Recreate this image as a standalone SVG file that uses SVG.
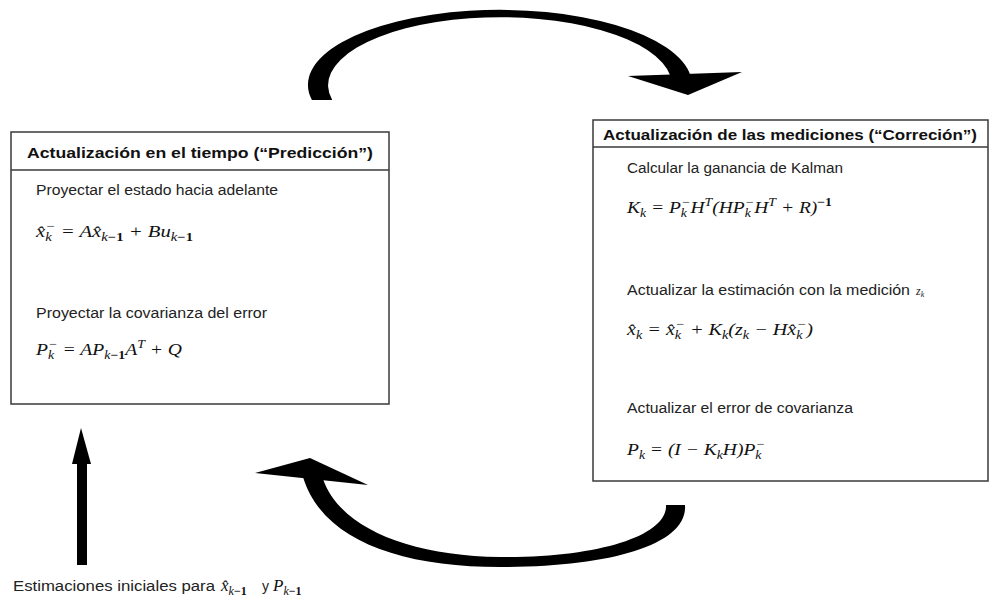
<svg xmlns="http://www.w3.org/2000/svg" width="989" height="606" viewBox="0 0 989 606">
<style>
.box{fill:#fff;stroke:#3a3a3a;stroke-width:1.5}
.sep{stroke:#3a3a3a;stroke-width:1.5}
.h{font-family:"Liberation Sans",Arial,sans-serif;font-weight:bold;font-size:15px;fill:#111}
.t{font-family:"Liberation Sans",Arial,sans-serif;font-size:14px;fill:#222}
.m{font-family:"Liberation Serif","Times New Roman",serif;font-style:italic;font-size:17px;fill:#111}
.s{font-size:12px}
.u{font-style:normal;font-weight:bold}
.arr{fill:#000;stroke:none}
</style>
<rect width="989" height="606" fill="#fff"/>
<g id="prediccion">
<rect class="box" x="11" y="132" width="378" height="272"/>
<line class="sep" x1="11" y1="170" x2="389" y2="170"/>
<text class="h" x="27" y="158" textLength="346" lengthAdjust="spacingAndGlyphs">Actualización en el tiempo (“Predicción”)</text>
<text class="t" x="36" y="195" textLength="242" lengthAdjust="spacingAndGlyphs">Proyectar el estado hacia adelante</text>
<text class="m" x="36" y="237" textLength="157" lengthAdjust="spacingAndGlyphs">x&#770;<tspan class="s" dy="4">k</tspan><tspan class="s" dx="-5" dy="-11">−</tspan><tspan dy="7"> = A</tspan>x&#770;<tspan class="s" dy="4">k<tspan class="u">−1</tspan></tspan><tspan dy="-4"> + Bu</tspan><tspan class="s" dy="4">k<tspan class="u">−1</tspan></tspan></text>
<text class="t" x="36" y="318" textLength="231" lengthAdjust="spacingAndGlyphs">Proyectar la covarianza del error</text>
<text class="m" x="36" y="355" textLength="146" lengthAdjust="spacingAndGlyphs">P<tspan class="s" dy="4">k</tspan><tspan class="s" dx="-5" dy="-11">−</tspan><tspan dy="7"> = AP</tspan><tspan class="s" dy="4">k<tspan class="u">−1</tspan></tspan><tspan dy="-4">A</tspan><tspan class="s" dy="-7">T</tspan><tspan dy="7"> + Q</tspan></text>
</g>
<g id="correccion">
<rect class="box" x="593" y="120" width="395" height="361"/>
<line class="sep" x1="593" y1="147" x2="988" y2="147"/>
<text class="h" x="603" y="140" textLength="374" lengthAdjust="spacingAndGlyphs">Actualización de las mediciones (“Correción”)</text>
<text class="t" x="627" y="173" textLength="216" lengthAdjust="spacingAndGlyphs">Calcular la ganancia de Kalman</text>
<text class="m" x="627" y="213" textLength="205" lengthAdjust="spacingAndGlyphs">K<tspan class="s" dy="4">k</tspan><tspan dy="-4"> = P</tspan><tspan class="s" dy="4">k</tspan><tspan class="s" dx="-5" dy="-11">−</tspan><tspan dy="7">H</tspan><tspan class="s" dy="-7">T</tspan><tspan dy="7">(HP</tspan><tspan class="s" dy="4">k</tspan><tspan class="s" dx="-5" dy="-11">−</tspan><tspan dy="7">H</tspan><tspan class="s" dy="-7">T</tspan><tspan dy="7"> + R)</tspan><tspan class="s" dy="-7"><tspan class="u">−1</tspan></tspan></text>
<text class="t" x="627" y="295"><tspan textLength="283" lengthAdjust="spacingAndGlyphs">Actualizar la estimación con la medición</tspan><tspan x="916" font-family="Liberation Serif" font-style="italic" font-size="12">z</tspan><tspan font-family="Liberation Serif" font-style="italic" font-size="8" dy="2">k</tspan></text>
<text class="m" x="627" y="335" textLength="186" lengthAdjust="spacingAndGlyphs">x&#770;<tspan class="s" dy="4">k</tspan><tspan dy="-4"> = </tspan>x&#770;<tspan class="s" dy="4">k</tspan><tspan class="s" dx="-5" dy="-11">−</tspan><tspan dy="7"> + K</tspan><tspan class="s" dy="4">k</tspan><tspan dy="-4">(z</tspan><tspan class="s" dy="4">k</tspan><tspan dy="-4"> − H</tspan>x&#770;<tspan class="s" dy="4">k</tspan><tspan class="s" dx="-5" dy="-11">−</tspan><tspan dy="7">)</tspan></text>
<text class="t" x="627" y="413" textLength="226" lengthAdjust="spacingAndGlyphs">Actualizar el error de covarianza</text>
<text class="m" x="627" y="455" textLength="138" lengthAdjust="spacingAndGlyphs">P<tspan class="s" dy="4">k</tspan><tspan dy="-4"> = (I − K</tspan><tspan class="s" dy="4">k</tspan><tspan dy="-4">H)P</tspan><tspan class="s" dy="4">k</tspan><tspan class="s" dx="-5" dy="-11">−</tspan></text>
</g>
<g id="estimaciones">
<text class="t" x="13" y="591"><tspan textLength="202" lengthAdjust="spacingAndGlyphs">Estimaciones iniciales para</tspan><tspan class="m" x="221">x&#770;</tspan><tspan class="m s" dy="4">k<tspan class="u">−1</tspan></tspan><tspan x="262" dy="-4">y</tspan><tspan class="m" x="273">P</tspan><tspan class="m s" dy="4">k<tspan class="u">−1</tspan></tspan></text>
</g>
<g id="connectors">
<path class="arr" d="M311.9,100 A192,75 0 1 1 690.6,76 L670.5,76 A172,68 0 1 0 332.2,100 Z"/>
<polygon class="arr" points="628,76 742,72 688,95"/>
<path class="arr" d="M685,505 C688,545 610,567 500,567 C400,567 322,540 303,477 L323,479 C340,528 410,556 500,557 C600,558 668,535 666,505 Z"/>
<polygon class="arr" points="255,473 310,458 368,485"/>
<rect class="arr" x="77" y="460" width="10" height="105"/>
<polygon class="arr" points="72,464 81,428 91,464"/>
</g>
</svg>
